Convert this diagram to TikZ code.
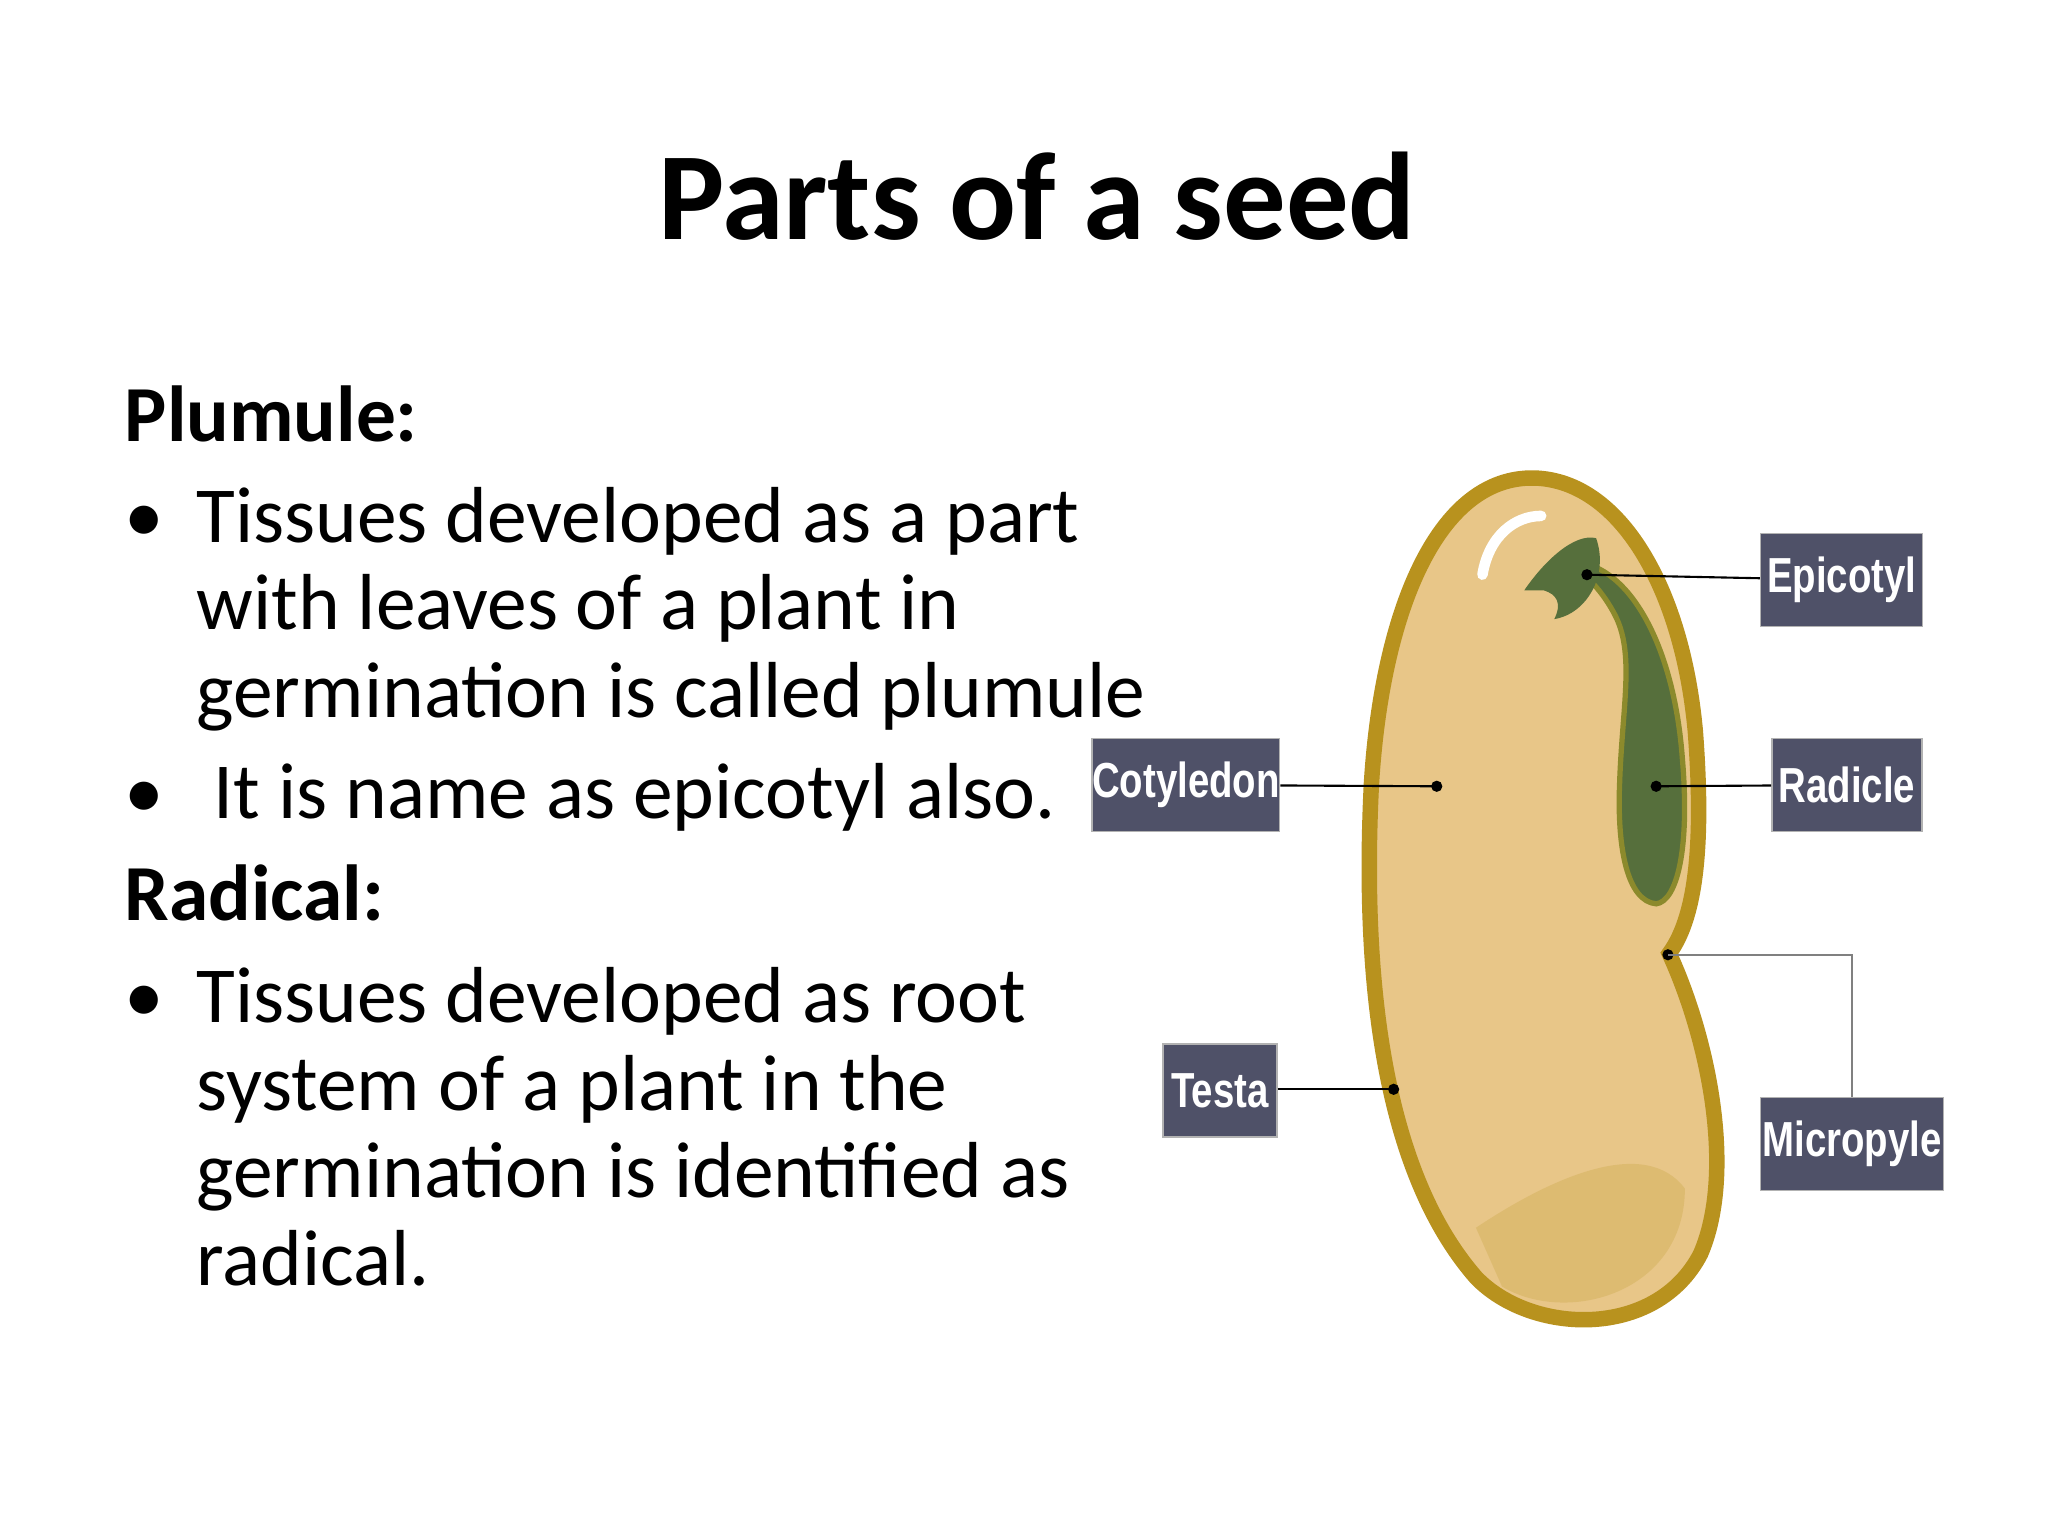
\documentclass[tikz,border=0pt]{standalone}
\usepackage{fontspec}
\setmainfont{Carlito}
\newfontfamily\lblfont[FakeStretch=0.78]{Liberation Sans}
\definecolor{seedfill}{HTML}{E8C688}
\definecolor{seededge}{HTML}{B8921E}
\definecolor{germ}{HTML}{566F3C}
\definecolor{germedge}{HTML}{8C8A2C}
\definecolor{boxcol}{HTML}{4F5168}
\tikzset{
  body/.style={anchor=base west,inner sep=0pt,font=\fontsize{22.6}{26}\selectfont},
  head/.style={body,font=\fontsize{22.6}{26}\selectfont\bfseries},
  lbl/.style={fill=boxcol,draw=gray!60,text=white,font=\lblfont\bfseries\fontsize{14}{16}\selectfont,
    minimum height=0.93cm,inner sep=0pt},
  pin/.style={line width=0.6pt},
  dot/.style={circle,fill=black,inner sep=0pt,minimum size=3.2pt}
}
\begin{document}
\begin{tikzpicture}[x=0.013061cm,y=-0.013061cm]
  \useasboundingbox (0,0) rectangle (1568,1176);
  % title
  \node[anchor=base,inner sep=0pt,font=\fontsize{35.5}{40}\selectfont\bfseries] (title) at (794,183) {Parts of a seed};
  % text
  \node[head] (plumule) at (95,338) {Plumule:};
  \node[body] (b1) at (95,415) {•};
  \node[body] (l1) at (150,415) {Tissues developed as a part};
  \node[body] (l2) at (150,482) {with leaves of a plant in};
  \node[body] (l3) at (150,549) {germination is called plumule};
  \node[body] (b2) at (95,627) {•};
  \node[body] (l4) at (163,627) {It is name as epicotyl also.};
  \node[head] (radical) at (95,705) {Radical:};
  \node[body] (b3) at (95,783) {•};
  \node[body] (l5) at (150,783) {Tissues developed as root};
  \node[body] (l6) at (150,850) {system of a plant in the};
  \node[body] (l7) at (150,917) {germination is identified as};
  \node[body] (l8) at (150,984) {radical.};
  % seed
  \draw[fill=seedfill,draw=seededge,line width=4.4pt]
    (1175,366) .. controls (1100,364) and (1058,470) .. (1050,600)
    .. controls (1042,760) and (1062,900) .. (1130,978)
    .. controls (1172,1022) and (1268,1026) .. (1302,960)
    .. controls (1328,900) and (1310,800) .. (1278,730)
    .. controls (1300,700) and (1304,640) .. (1298,560)
    .. controls (1288,450) and (1240,368) .. (1175,366) -- cycle;
  \fill[seededge!35!seedfill,opacity=0.6]
    (1130,940) .. controls (1190,900) and (1260,870) .. (1290,910)
    .. controls (1290,990) and (1200,1015) .. (1150,985) -- cycle;
  \draw[white,line width=3pt,line cap=round] (1135,440) .. controls (1140,410) and (1160,395) .. (1180,395);
  \draw[fill=germ,draw=germedge,line width=1.5pt]
    (1215,432) .. controls (1252,442) and (1282,500) .. (1288,580)
    .. controls (1294,650) and (1284,690) .. (1268,692)
    .. controls (1246,690) and (1238,650) .. (1240,600)
    .. controls (1242,540) and (1252,500) .. (1236,470)
    .. controls (1228,455) and (1220,447) .. (1215,442) -- cycle;
  \fill[germ] (1167,452) .. controls (1182,430) and (1205,408) .. (1222,412)
    .. controls (1232,440) and (1215,470) .. (1190,474)
    .. controls (1196,462) and (1192,455) .. (1182,452) -- cycle;
  % pins
  \node[dot] (pEpi) at (1215,440) {};
  \node[dot] (pRad) at (1268,602) {};
  \node[dot] (pCot) at (1100,602) {};
  \node[dot] (pTes) at (1067,834) {};
  \node[dot] (pMic) at (1277,731) {};
  \coordinate (bend) at (1418,731);
  % labels
  \node[lbl,minimum width=1.62cm] (epicotyl) at (1410,444) {Epicotyl};
  \node[lbl,minimum width=1.50cm] (radicle) at (1414,601) {Radicle};
  \node[lbl,minimum width=1.83cm] (cotyledon) at (908,601) {Cotyledon};
  \node[lbl,minimum width=1.14cm] (testa) at (934,835) {Testa};
  \node[lbl,minimum width=1.83cm] (micropyle) at (1418,876) {Micropyle};
  \draw[pin] (epicotyl) -- (pEpi.center);
  \draw[pin] (radicle) -- (pRad.center);
  \draw[pin] (cotyledon) -- (pCot.center);
  \draw[pin] (testa.east |- pTes) -- (pTes.center);
  \draw[pin,gray] (micropyle) -- (bend) -- (pMic.center);
\end{tikzpicture}
\end{document}
